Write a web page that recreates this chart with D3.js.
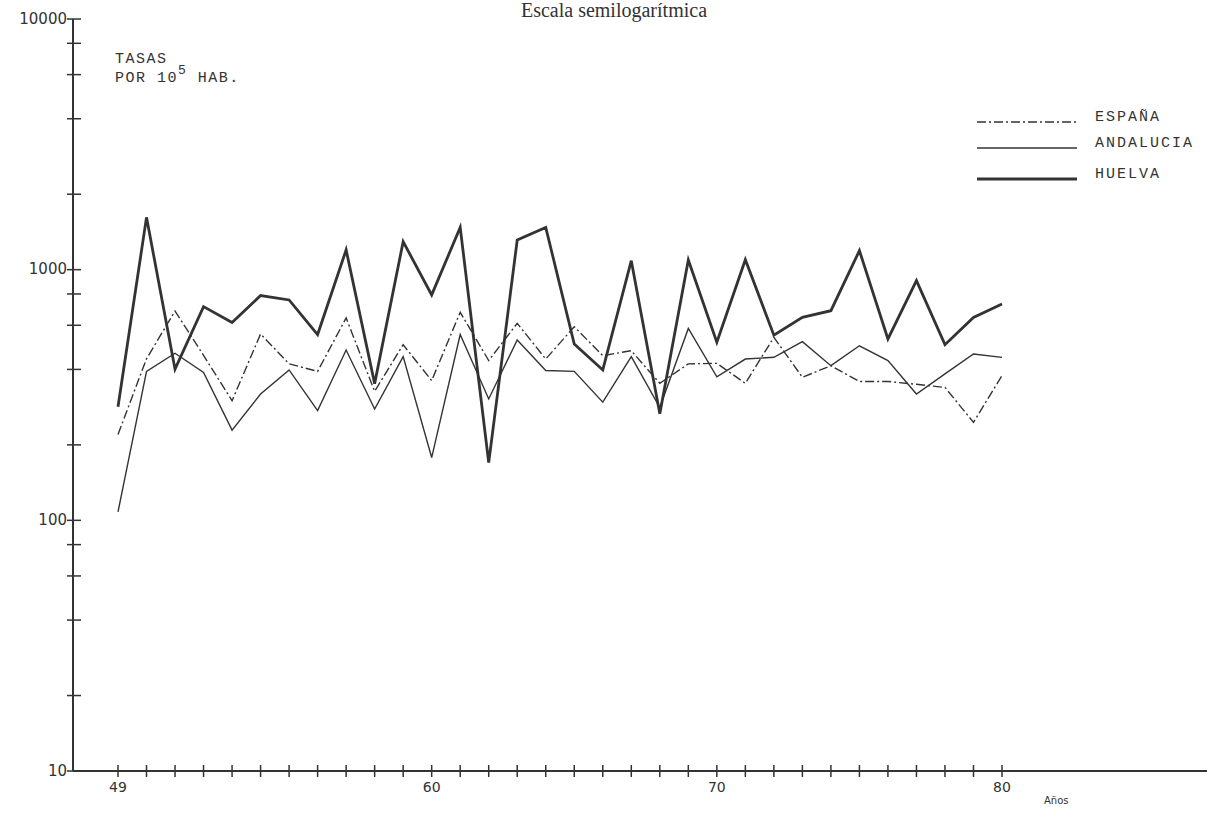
<!DOCTYPE html>
<html>
<head>
<meta charset="utf-8">
<script src="https://cdn.jsdelivr.net/npm/d3@7"></script>
<style>
  body { margin: 0; background: #fff; }
  svg { display: block; }
  .mono { font-family: "Liberation Mono", "DejaVu Sans Mono", monospace; fill: #333; }
</style>
</head>
<body>
<svg id="chart" width="1207" height="817"></svg>
<script>
// years 1949 - 1980
var years = d3.range(1949, 1981);

var espana = [220, 441, 684, 455, 300, 554, 421, 393, 642, 327,
              502, 361, 676, 434, 611, 440, 592, 454, 475, 352,
              421, 423, 352, 537, 372, 414, 358, 358, 349, 339,
              246, 378];

var andalucia = [108, 393, 464, 389, 229, 319, 398, 274, 478, 278,
                 450, 178, 551, 305, 524, 396, 393, 296, 450, 282,
                 583, 374, 440, 447, 516, 414, 497, 434, 319, 384,
                 461, 447];

var huelva = [284, 1617, 401, 712, 616, 788, 757, 551, 1199, 351,
              1293, 793, 1475, 170, 1313, 1475, 505, 398, 1086, 266,
              1093, 513, 1096, 548, 645, 686, 1191, 529, 904, 502,
              645, 730];

var yLabels = [10, 100, 1000, 10000];
var yMinor = [20, 40, 60, 80, 200, 400, 600, 800, 2000, 4000, 6000, 8000];
var xLabels = [1949, 1960, 1970, 1980];

var legendNames = ["ESPAÑA", "ANDALUCIA", "HUELVA"];

var svg = d3.select("#chart");
var ink = "#333";
var axisX = 73;

var x = d3.scaleLinear().domain([1949, 1980]).range([118, 1002]);
var y = d3.scaleLog().domain([10, 10000]).range([771, 19]);

// ejes
svg.append("line")
    .attr("x1", axisX).attr("x2", axisX)
    .attr("y1", y(10000)).attr("y2", y(10))
    .attr("stroke", ink).attr("stroke-width", 2);

svg.append("line")
    .attr("x1", axisX).attr("x2", 1207)
    .attr("y1", y(10)).attr("y2", y(10))
    .attr("stroke", ink).attr("stroke-width", 2);

// marcas eje y
svg.selectAll(".ytick")
    .data(yLabels.concat(yMinor))
    .enter()
    .append("line")
    .attr("class", "ytick")
    .attr("x1", axisX - 6).attr("x2", axisX + 8)
    .attr("y1", function(d) { return y(d); })
    .attr("y2", function(d) { return y(d); })
    .attr("stroke", ink).attr("stroke-width", 1.5);

svg.selectAll(".ylabel")
    .data(yLabels)
    .enter()
    .append("text")
    .attr("class", "ylabel")
    .attr("x", axisX - 6)
    .attr("y", function(d) { return y(d); })
    .attr("dy", ".3em")
    .style("text-anchor", "end")
    .style("font-family", "'DejaVu Sans', sans-serif")
    .style("font-size", "15px")
    .style("fill", ink)
    .text(function(d) { return d; });

// marcas eje x
svg.selectAll(".xtick")
    .data(years)
    .enter()
    .append("line")
    .attr("class", "xtick")
    .attr("x1", function(d) { return x(d); })
    .attr("x2", function(d) { return x(d); })
    .attr("y1", y(10) - 6).attr("y2", y(10) + 6)
    .attr("stroke", ink).attr("stroke-width", 1.5);

svg.selectAll(".xlabel")
    .data(xLabels)
    .enter()
    .append("text")
    .attr("class", "xlabel")
    .attr("x", function(d) { return x(d); })
    .attr("y", 792)
    .style("text-anchor", "middle")
    .style("font-family", "'DejaVu Sans', sans-serif")
    .style("font-size", "14px")
    .style("fill", ink)
    .text(function(d) { return String(d).slice(2); });

svg.append("text")
    .attr("x", 1044).attr("y", 804)
    .style("font-family", "'DejaVu Sans', sans-serif")
    .style("font-size", "10px")
    .style("fill", ink)
    .text("Años");

// titulo
svg.append("text")
    .attr("x", 614).attr("y", 17)
    .style("text-anchor", "middle")
    .style("font-family", "'Liberation Serif', serif")
    .style("font-size", "20px")
    .style("fill", ink)
    .text("Escala semilogarítmica");

// unidades
var units = svg.append("text")
    .attr("class", "mono")
    .style("font-size", "15px")
    .style("letter-spacing", "1.5px");
units.append("tspan").attr("x", 115).attr("y", 63).text("TASAS");
units.append("tspan").attr("x", 115).attr("y", 82).text("POR 10");
units.append("tspan").attr("dy", -8).style("font-size", "13px").text("5");
units.append("tspan").attr("dy", 8).text(" HAB.");

// lineas
var line = d3.line()
    .x(function(d, i) { return x(years[i]); })
    .y(function(d) { return y(d); });

var series = [
    { values: espana, width: 1.4, dash: "9,3,2,3" },
    { values: andalucia, width: 1.4, dash: null },
    { values: huelva, width: 2.8, dash: null }
];

svg.selectAll(".serie")
    .data(series)
    .enter()
    .append("path")
    .attr("class", "serie")
    .attr("d", function(d) { return line(d.values); })
    .attr("fill", "none")
    .attr("stroke", ink)
    .attr("stroke-width", function(d) { return d.width; })
    .attr("stroke-dasharray", function(d) { return d.dash; })
    .attr("stroke-linejoin", "miter");

// leyenda
var legendY = [122, 148, 179];

var legend = svg.selectAll(".legend")
    .data(series)
    .enter()
    .append("g")
    .attr("class", "legend")
    .attr("transform", function(d, i) { return "translate(0," + legendY[i] + ")"; });

legend.append("line")
    .attr("x1", 977).attr("x2", 1077)
    .attr("y1", 0).attr("y2", 0)
    .attr("stroke", ink)
    .attr("stroke-width", function(d) { return d.width; })
    .attr("stroke-dasharray", function(d) { return d.dash; });

legend.append("text")
    .attr("class", "mono")
    .attr("x", 1095)
    .attr("y", -1)
    .style("font-size", "15px")
    .style("letter-spacing", "2px")
    .text(function(d, i) { return legendNames[i]; });
</script>
</body>
</html>
